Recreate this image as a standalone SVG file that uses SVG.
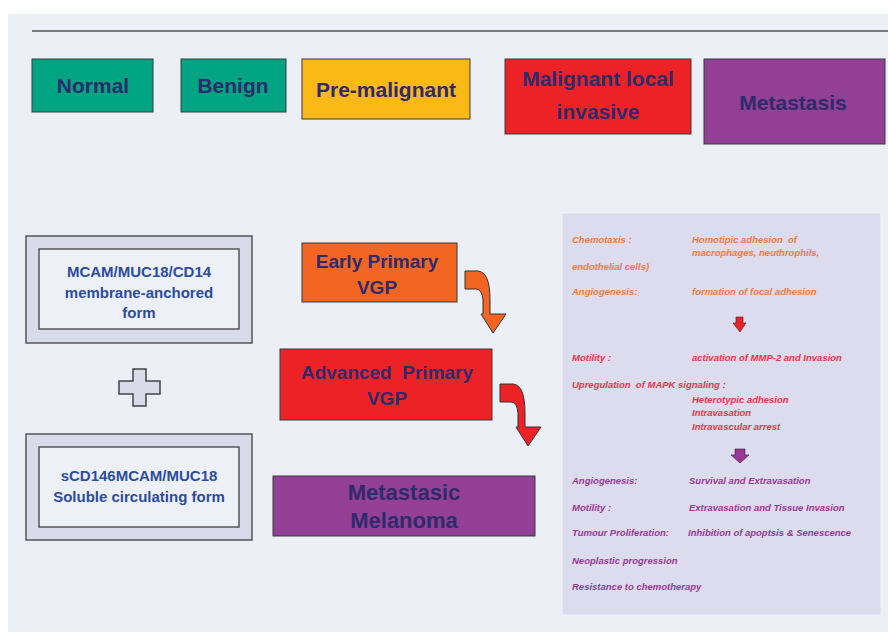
<svg xmlns="http://www.w3.org/2000/svg" width="888" height="632" viewBox="0 0 888 632">
<defs>
<style>
.box{stroke:#3a3a3a;stroke-width:1}
.t{font-family:"Liberation Sans",Arial,sans-serif;font-weight:bold;fill:#2d2b6b;text-anchor:middle}
.lt{font-family:"Liberation Sans",Arial,sans-serif;font-weight:bold;fill:#2c4c9c;text-anchor:middle;font-size:15px}
.outer{fill:#d9daea;stroke:#555;stroke-width:1.5}
.inner{fill:#eef0f7;stroke:#555;stroke-width:1.5}
.p{font-family:"Liberation Sans",Arial,sans-serif;font-weight:bold;font-style:italic;font-size:9.5px}
.o{fill:#f47a3c}
.r{fill:#e8354a}
.v{fill:#9a3896}
</style>
<path id="bent" d="M0,0 L13,0 Q25,1 25,29 L25,43 L41,43 L28,62 L16,43 L18,43 L18,29 Q17,18 11,18 L0,18 Z" stroke="#333" stroke-width="1"/>
</defs>
<rect x="0" y="0" width="888" height="632" fill="#ffffff"/>
<rect x="8" y="14" width="880" height="618" fill="#eceff6"/>
<line x1="32" y1="31" x2="888" y2="31" stroke="#555" stroke-width="1.5"/>

<g id="normal"><rect class="box" x="32" y="59" width="121" height="53" fill="#00a482"/><text class="t" x="93" y="93" font-size="21">Normal</text></g>
<g id="benign"><rect class="box" x="181" y="59" width="105" height="53" fill="#00a482"/><text class="t" x="233" y="93" font-size="21">Benign</text></g>
<g id="premalignant"><rect class="box" x="302" y="59" width="168" height="60" fill="#fbb917"/><text class="t" x="386" y="97" font-size="21">Pre-malignant</text></g>
<g id="malignant"><rect class="box" x="505" y="59" width="186" height="75" fill="#ec2227"/><text class="t" x="598" y="86" font-size="21">Malignant local</text><text class="t" x="598" y="119" font-size="21">invasive</text></g>
<g id="metastasis"><rect class="box" x="704" y="59" width="181" height="85" fill="#923f95"/><text class="t" x="793" y="110" font-size="21">Metastasis</text></g>

<g id="membrane"><rect class="outer" x="26" y="236" width="226" height="107"/><rect class="inner" x="39" y="249" width="200" height="80"/><text class="lt" x="139" y="277">MCAM/MUC18/CD14</text><text class="lt" x="139" y="298">membrane-anchored</text><text class="lt" x="139" y="318">form</text></g>
<g id="plus"><path d="M133,369 L146,369 L146,381 L160,381 L160,394 L146,394 L146,406 L133,406 L133,394 L119,394 L119,381 L133,381 Z" fill="#d9daea" stroke="#444" stroke-width="1.5"/></g>
<g id="soluble"><rect class="outer" x="26" y="434" width="226" height="106"/><rect class="inner" x="39" y="447" width="200" height="80"/><text class="lt" x="139" y="481">sCD146MCAM/MUC18</text><text class="lt" x="139" y="502">Soluble circulating form</text></g>

<g id="early"><rect class="box" x="302" y="243" width="155" height="59" fill="#f26522"/><text class="t" x="377" y="268" font-size="19">Early Primary</text><text class="t" x="377" y="294" font-size="19">VGP</text></g>
<g id="advanced"><rect class="box" x="280" y="349" width="212" height="71" fill="#ec2227"/><text class="t" x="387" y="379" font-size="19" xml:space="preserve">Advanced  Primary</text><text class="t" x="387" y="405" font-size="19">VGP</text></g>
<g id="melanoma"><rect class="box" x="273" y="476" width="262" height="60" fill="#923f95"/><text class="t" x="404" y="500" font-size="22">Metastasic</text><text class="t" x="404" y="528" font-size="22">Melanoma</text></g>

<g id="panel">
<rect x="562" y="213" width="319" height="402" fill="#dcdcee" stroke="#f2f3f9" stroke-width="1"/>
<text class="p o" x="572" y="243">Chemotaxis :</text>
<text class="p o" x="692" y="243" xml:space="preserve">Homotipic adhesion  of</text>
<text class="p o" x="692" y="256">macrophages, neuthrophils,</text>
<text class="p o" x="572" y="270">endothelial cells)</text>
<text class="p o" x="572" y="295">Angiogenesis:</text>
<text class="p o" x="692" y="295">formation of focal adhesion</text>
<text class="p r" x="572" y="361">Motility :</text>
<text class="p r" x="692" y="361">activation of MMP-2 and Invasion</text>
<text class="p r" x="572" y="388" xml:space="preserve">Upregulation  of MAPK signaling :</text>
<text class="p r" x="692" y="403">Heterotypic adhesion</text>
<text class="p r" x="692" y="416">Intravasation</text>
<text class="p r" x="692" y="430">Intravascular arrest</text>
<text class="p v" x="572" y="484">Angiogenesis:</text>
<text class="p v" x="689" y="484">Survival and Extravasation</text>
<text class="p v" x="572" y="511">Motility :</text>
<text class="p v" x="689" y="511">Extravasation and Tissue Invasion</text>
<text class="p v" x="572" y="536">Tumour Proliferation:</text>
<text class="p v" x="688" y="536">Inhibition of apoptsis &amp; Senescence</text>
<text class="p v" x="572" y="564">Neoplastic progression</text>
<text class="p v" x="572" y="590">Resistance to chemotherapy</text>
</g>

<g id="connectors">
<use href="#bent" x="465" y="271" fill="#f26522"/>
<use href="#bent" x="500" y="384" fill="#ec2227"/>
<path d="M736,317 L743,317 L743,323 L746,323 L740,332 L733,323 L736,323 Z" fill="#e8232a" stroke="#5a1a1a" stroke-width="0.6"/>
<path d="M735,449 L745,449 L745,455 L749,455 L740,463 L731,455 L735,455 Z" fill="#9a3896" stroke="#3a1a3a" stroke-width="0.6"/>
</g>
</svg>
